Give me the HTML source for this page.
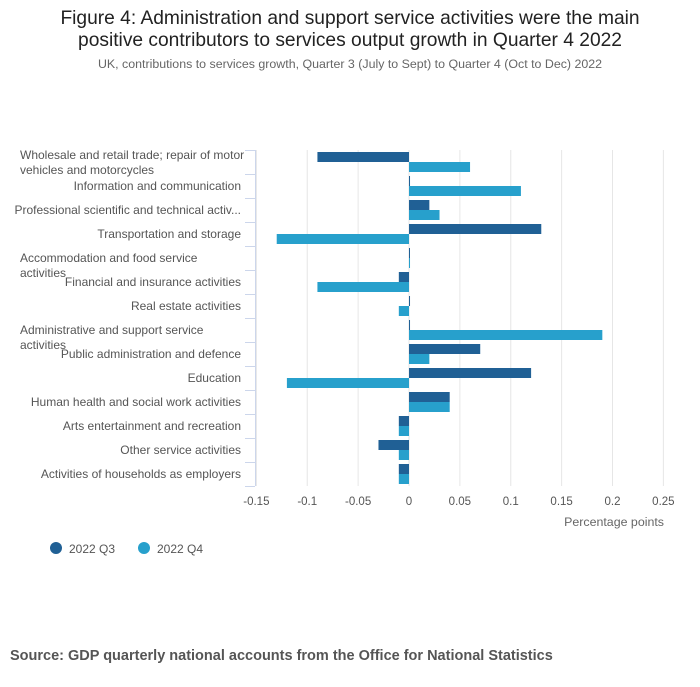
<!DOCTYPE html>
<html><head><meta charset="utf-8"><style>
body{margin:0;background:#fff;font-family:"Liberation Sans",sans-serif}
svg text{font-family:"Liberation Sans",sans-serif}
</style></head><body>
<svg width="700" height="682" xmlns="http://www.w3.org/2000/svg">
<text x="350" y="24" text-anchor="middle" font-size="19.2" fill="#222">Figure 4: Administration and support service activities were the main</text>
<text x="350" y="46" text-anchor="middle" font-size="19.2" fill="#222">positive contributors to services output growth in Quarter 4 2022</text>
<text x="350" y="68" text-anchor="middle" font-size="12.4" fill="#666">UK, contributions to services growth, Quarter 3 (July to Sept) to Quarter 4 (Oct to Dec) 2022</text>
<g id="grid"></g><g id="bars"></g><g id="labels"></g>
<text x="664" y="526" text-anchor="end" font-size="12.4" fill="#666">Percentage points</text>
<circle cx="56" cy="548" r="6" fill="#206095"/>
<text x="69" y="553" font-size="12" fill="#555">2022 Q3</text>
<circle cx="144" cy="548" r="6" fill="#27a0cc"/>
<text x="157" y="553" font-size="12" fill="#555">2022 Q4</text>
<text x="10" y="660" font-size="14.5" font-weight="bold" fill="#555">Source: GDP quarterly national accounts from the Office for National Statistics</text>
</svg>
<script>
const categories=[["Wholesale and retail trade; repair of motor","vehicles and motorcycles"],["Information and communication"],["Professional scientific and technical activ..."],["Transportation and storage"],["Accommodation and food service","activities"],["Financial and insurance activities"],["Real estate activities"],["Administrative and support service","activities"],["Public administration and defence"],["Education"],["Human health and social work activities"],["Arts entertainment and recreation"],["Other service activities"],["Activities of households as employers"]];
const q3=[-0.09,0.001,0.02,0.13,0.0005,-0.01,0.001,0.001,0.07,0.12,0.04,-0.01,-0.03,-0.01];
const q4=[0.06,0.11,0.03,-0.13,0.001,-0.09,-0.01,0.19,0.02,-0.12,0.04,-0.01,-0.01,-0.01];
const ticks=[-0.15,-0.1,-0.05,0,0.05,0.1,0.15,0.2,0.25];
const tickLabels=["-0.15","-0.1","-0.05","0","0.05","0.1","0.15","0.2","0.25"];
const NS="http://www.w3.org/2000/svg";
const xs=v=>409+v*1017.5, plotTop=150, rh=24;
function mk(t,a,p){const e=document.createElementNS(NS,t);for(const k in a)e.setAttribute(k,a[k]);p.appendChild(e);return e;}
const g=document.getElementById('grid'),b=document.getElementById('bars'),l=document.getElementById('labels');
ticks.forEach((t,i)=>{
 const ln=mk('line',{x1:xs(t),x2:xs(t),y1:plotTop,y2:plotTop+rh*categories.length,stroke:'#e6e6e6'},g);
 
 
 const tx=mk('text',{x:xs(t),y:505,'text-anchor':'middle','font-size':11.5,fill:'#555'},l);
 tx.textContent=tickLabels[i];
 
 
});
const ax=mk('line',{x1:255.5,x2:255.5,y1:plotTop,y2:plotTop+rh*categories.length,stroke:'#ccd6eb'},g);


for(let i=0;i<=categories.length;i++){
 const tk=mk('line',{x1:245,x2:255,y1:plotTop+i*rh+0.5,y2:plotTop+i*rh+0.5,stroke:'#ccd6eb'},g);
 
 
}
categories.forEach((c,i)=>{
 const y0=plotTop+i*rh;
 [[q3[i],'#206095',y0+2],[q4[i],'#27a0cc',y0+12]].forEach(([v,col,y],s)=>{
  const r=mk('rect',{x:Math.min(xs(v),xs(0)),y:y,width:Math.max(Math.abs(xs(v)-xs(0)),1),height:10,fill:col},b);
  
  
 });
 if(c.length>1){
  const base=i===0?y0+9:y0+16;
  c.forEach((line,j)=>{const t=mk('text',{x:20,y:base+j*15,'font-size':12,fill:'#555'},l);t.textContent=line;
   
   });
 }else{
  const t=mk('text',{x:241,y:y0+16,'text-anchor':'end','font-size':12,fill:'#555'},l);t.textContent=c[0];
  
  
 }
});
</script>
</body></html>
